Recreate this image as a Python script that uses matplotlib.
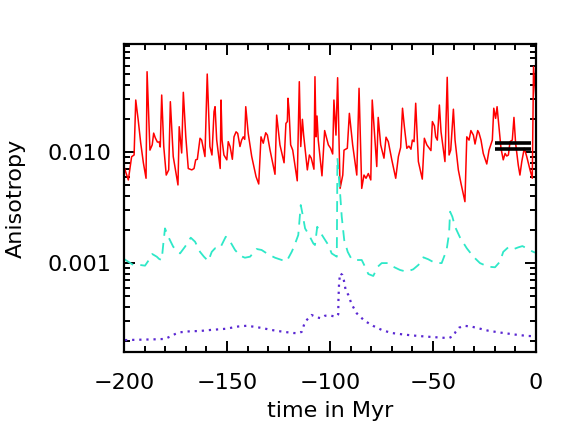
import matplotlib
matplotlib.use("Agg")
import matplotlib.pyplot as plt
from matplotlib.ticker import FixedLocator, NullFormatter, FixedFormatter

plt.rcParams['font.family'] = ['DejaVu Sans']

# ---- data ----
red_t = [-200, -197.9, -196.3, -195.1, -194.3, -193.1, -191.9, -190.6, -189.3, -188.8,
         -187.4, -186.3, -185.6, -184.8, -183.8, -182.9, -182.4, -181.7, -180.7, -179.5,
         -178.3, -177.5, -176.1, -173.8, -173.2, -172.0, -171.2, -170.0, -168.8, -167.1,
         -166.0, -165.2, -164.4, -163.1, -162.3, -160.7, -159.6, -158.3, -157.3, -156.3,
         -155.8, -155.0, -153.3, -152.9, -152.4, -151.5, -150.1, -149.4, -148.5, -147.4,
         -146.6, -145.6, -144.8, -143.7, -142.9, -142.1, -141.4, -140.9, -139.7, -138.0,
         -135.9, -134.6, -133.5, -132.4, -131.2, -130.4, -129.1, -126.7, -125.9, -124.3,
         -122.3, -121.4, -120.7, -120.4, -119.9, -119.1, -118.1, -115.9, -114.9, -114.2,
         -113.4, -112.8, -111.0, -110.0, -109.1, -107.8, -107.3, -106.8, -106.3, -105.7,
         -103.9, -102.6, -100.8, -99.7, -98.7, -98.1, -97.1, -96.3, -95.1, -93.8,
         -93.2, -91.6, -90.6, -89.0, -87.0, -85.9, -84.6, -83.5, -82.5, -81.4,
         -80.2, -79.5, -77.3, -76.6, -75.4, -73.8, -72.8, -71.7, -70.0, -68.1,
         -66.8, -65.7, -64.8, -63.9, -62.7, -61.7, -60.7, -60.0, -59.2, -58.4,
         -57.1, -55.2, -54.2, -53.0, -51.8, -51.0, -50.3, -49.3, -48.7, -47.9,
         -46.9, -46.1, -44.2, -43.1, -42.2, -41.4, -40.1, -39.3, -37.7, -36.4,
         -34.5, -33.6, -32.5, -31.6, -30.4, -29.6, -28.3, -27.7, -26.7, -25.6,
         -23.9, -22.8, -21.2, -20.5, -19.6, -18.9, -18.0, -17.0, -15.9, -15.0,
         -14.2, -13.4, -12.6, -11.5, -10.7, -9.9, -8.6, -7.8, -6.9, -5.7,
         -4.5, -2.9, -1.8, -1.2, 0.0]
red_v = [0.00738, 0.0056, 0.00907, 0.0094, 0.0294, 0.0194, 0.0121, 0.0080, 0.0058, 0.0529,
         0.0104, 0.0116, 0.0148, 0.0134, 0.0123, 0.0123, 0.0111, 0.0326, 0.0112, 0.0062,
         0.0069, 0.0284, 0.0091, 0.00505, 0.0169, 0.0098, 0.0345, 0.0137, 0.0071, 0.0069,
         0.0071, 0.0085, 0.0086, 0.0133, 0.0128, 0.0091, 0.0504, 0.0112, 0.0094, 0.0231,
         0.0256, 0.0128, 0.0071, 0.0294, 0.0128, 0.0094, 0.0085, 0.0124, 0.0112, 0.0086,
         0.0137, 0.0152, 0.0147, 0.0112, 0.0128, 0.0137, 0.0130, 0.0256, 0.0147, 0.0091,
         0.0060, 0.00515, 0.0137, 0.0120, 0.0149, 0.0142, 0.0104, 0.0063, 0.0215, 0.0116,
         0.0080, 0.0181, 0.0188, 0.0305, 0.0239, 0.0116, 0.0104, 0.0055, 0.0430, 0.0112,
         0.0197, 0.0142, 0.0069, 0.0094, 0.0088, 0.0070, 0.0477, 0.0137, 0.0211, 0.0128,
         0.0061, 0.0156, 0.0116, 0.0108, 0.0096, 0.0294, 0.0142, 0.0467, 0.0047, 0.0062,
         0.0104, 0.0108, 0.0223, 0.0116, 0.0062, 0.0375, 0.0047, 0.0062, 0.0058, 0.0064,
         0.0056, 0.0294, 0.0074, 0.0205, 0.0116, 0.0088, 0.0136, 0.0124, 0.0085, 0.0058,
         0.0091, 0.0110, 0.0248, 0.0169, 0.0108, 0.0113, 0.0106, 0.0128, 0.0124, 0.0275,
         0.0082, 0.0057, 0.0133, 0.0116, 0.0108, 0.0103, 0.0188, 0.0172, 0.0137, 0.0128,
         0.0265, 0.0152, 0.0082, 0.0471, 0.0094, 0.0104, 0.0243, 0.0128, 0.0069, 0.0052,
         0.00357, 0.0137, 0.0128, 0.0156, 0.0142, 0.0118, 0.0156, 0.0149, 0.0128, 0.0097,
         0.0078, 0.0104, 0.0128, 0.0248, 0.0201, 0.0256, 0.0169, 0.0108, 0.0085, 0.0097,
         0.0092, 0.0094, 0.0124, 0.0128, 0.0205, 0.0120, 0.0076, 0.0062, 0.0082, 0.0108,
         0.0091, 0.0069, 0.0058, 0.0587, 0.0294]

cyan_t = [-200, -198.4, -195.5, -192.2, -189.8, -187.4, -186.3, -184.1, -182.9, -181.7,
          -180.9, -180.1, -178.5, -176.1, -172.8, -170.4, -167.6, -165.5, -163.1, -161.2,
          -159.1, -157.4, -155.8, -153.4, -150.6, -148.9, -146.1, -143.7, -141.3, -138.8,
          -135.6, -133.2, -130.0, -126.7, -123.4, -121.0, -118.6, -117.5, -115.4, -114.2,
          -113.4, -112.1, -110.2, -108.1, -107.3, -106.2, -104.9, -102.9, -100.8, -99.2,
          -96.7, -96.4, -95.1, -94.3, -93.1, -91.4, -89.5, -87.0, -84.6, -83.0,
          -81.4, -79.0, -76.8, -74.9, -71.7, -69.3, -66.0, -62.8, -59.6, -57.1,
          -54.7, -52.3, -49.0, -45.8, -43.4, -42.2, -41.7, -40.6, -39.3, -36.9,
          -33.6, -30.4, -27.2, -23.2, -19.9, -17.5, -15.9, -13.5, -11.0, -8.6,
          -6.6, -4.5, -2.1, -0.5]
cyan_v = [1.086e-3, 1.04e-3, 0.96e-3, 0.96e-3, 0.946e-3, 1.10e-3, 1.205e-3, 1.14e-3, 1.086e-3, 1.064e-3,
          1.50e-3, 2.05e-3, 1.725e-3, 1.40e-3, 1.22e-3, 1.40e-3, 1.69e-3, 1.555e-3, 1.26e-3, 1.14e-3,
          1.04e-3, 1.26e-3, 1.357e-3, 1.357e-3, 1.725e-3, 1.61e-3, 1.31e-3, 1.164e-3, 1.116e-3, 1.14e-3,
          1.337e-3, 1.31e-3, 1.197e-3, 1.116e-3, 1.064e-3, 1.04e-3, 1.26e-3, 1.40e-3, 1.787e-3, 3.33e-3,
          2.80e-3, 2.05e-3, 1.787e-3, 1.50e-3, 1.452e-3, 2.12e-3, 1.914e-3, 1.67e-3, 1.452e-3, 1.22e-3,
          1.14e-3, 8.83e-3, 4.25e-3, 2.61e-3, 1.61e-3, 1.26e-3, 1.08e-3, 1.064e-3, 1.064e-3, 0.926e-3,
          0.796e-3, 0.764e-3, 0.926e-3, 0.998e-3, 0.998e-3, 0.926e-3, 0.865e-3, 0.835e-3, 0.877e-3, 0.96e-3,
          1.125e-3, 1.08e-3, 1.0e-3, 0.998e-3, 1.31e-3, 1.85e-3, 2.90e-3, 2.61e-3, 2.12e-3, 1.70e-3,
          1.357e-3, 1.14e-3, 0.998e-3, 0.926e-3, 0.915e-3, 1.027e-3, 1.26e-3, 1.384e-3, 1.33e-3, 1.384e-3,
          1.42e-3, 1.357e-3, 1.28e-3, 1.24e-3]

purple_t = [-199.5, -184.1, -180.1, -177.7, -175.2, -172.8, -168.0, -163.1, -158.3, -153.4,
            -150.1, -145.3, -140.4, -137.2, -133.2, -128.3, -122.7, -117.8, -115.4, -113.7,
            -113.0, -112.1, -108.9, -106.5, -104.4, -102.4, -99.5, -97.1, -96.0, -95.9,
            -95.6, -95.1, -94.0, -93.3, -92.4, -91.1, -89.5, -87.0, -83.3, -79.0,
            -74.6, -70.0, -63.6, -57.1, -50.6, -45.0, -42.2, -40.1, -39.0, -37.4,
            -35.0, -31.2, -27.2, -23.2, -18.3, -13.5, -8.6, -3.7, -0.5]
purple_v = [2.02e-4, 2.055e-4, 2.07e-4, 2.17e-4, 2.29e-4, 2.375e-4, 2.425e-4, 2.44e-4, 2.49e-4, 2.53e-4,
            2.56e-4, 2.67e-4, 2.72e-4, 2.67e-4, 2.60e-4, 2.49e-4, 2.40e-4, 2.34e-4, 2.33e-4, 2.40e-4,
            2.64e-4, 2.96e-4, 3.40e-4, 3.24e-4, 3.18e-4, 3.35e-4, 3.35e-4, 3.28e-4, 3.45e-4, 4.64e-4,
            6.56e-4, 8.07e-4, 7.80e-4, 7.03e-4, 5.71e-4, 5.15e-4, 4.25e-4, 3.52e-4, 3.02e-4, 2.71e-4,
            2.48e-4, 2.34e-4, 2.26e-4, 2.20e-4, 2.155e-4, 2.12e-4, 2.11e-4, 2.20e-4, 2.40e-4, 2.61e-4,
            2.72e-4, 2.67e-4, 2.56e-4, 2.455e-4, 2.375e-4, 2.31e-4, 2.245e-4, 2.20e-4, 2.19e-4]

bar_t = [-20.0, -2.5]
bar_levels = [0.0121, 0.0106]

xticks = [-200, -150, -100, -50, 0]
xticklabels = ['\u2212200', '\u2212150', '\u2212100', '\u221250', '0']
yticks = [0.001, 0.01]
yticklabels = ['0.001', '0.010']

# ---- figure ----
fig = plt.figure(figsize=(5.81, 4.41), dpi=100)
ax = fig.add_axes([124/581, 89/441, 412/581, 308/441])

ax.plot(red_t, red_v, color='#ff0000', lw=1.1)
ax.plot(cyan_t, cyan_v, color='#2ee8c8', lw=1.3, linestyle=(0, (6, 4)))
ax.plot(purple_t, purple_v, color='#5a28d2', lw=1.6, linestyle=(0, (1, 2.2)))
for lev in bar_levels:
    ax.plot(bar_t, [lev, lev], color='black', lw=2.6, solid_capstyle='butt')

ax.set_yscale('log')
ax.set_xlim(-200, 0)
ax.set_ylim(1.578e-4, 0.0940)

ax.xaxis.set_major_locator(FixedLocator(xticks))
ax.xaxis.set_major_formatter(FixedFormatter(xticklabels))
ax.xaxis.set_minor_locator(FixedLocator(list(range(-200, 1, 10))))
ax.yaxis.set_major_locator(FixedLocator(yticks))
ax.yaxis.set_major_formatter(FixedFormatter(yticklabels))
minor_y = [m * 10.0**e for e in (-4, -3, -2) for m in range(2, 10)]
ax.yaxis.set_minor_locator(FixedLocator(minor_y))
ax.yaxis.set_minor_formatter(NullFormatter())

ax.tick_params(which='both', direction='in', top=True, right=True, width=1.4, labelsize=16)
ax.tick_params(which='major', length=8)
ax.tick_params(which='minor', length=4)
ax.tick_params(axis='x', which='major', pad=15)
ax.tick_params(axis='y', which='major', pad=9)
for s in ax.spines.values():
    s.set_linewidth(1.6)

ax.set_xlabel('time in Myr', fontsize=16, labelpad=6)
ax.set_ylabel('Anisotropy', fontsize=16, labelpad=16)

fig.savefig('out.png', dpi=100)
